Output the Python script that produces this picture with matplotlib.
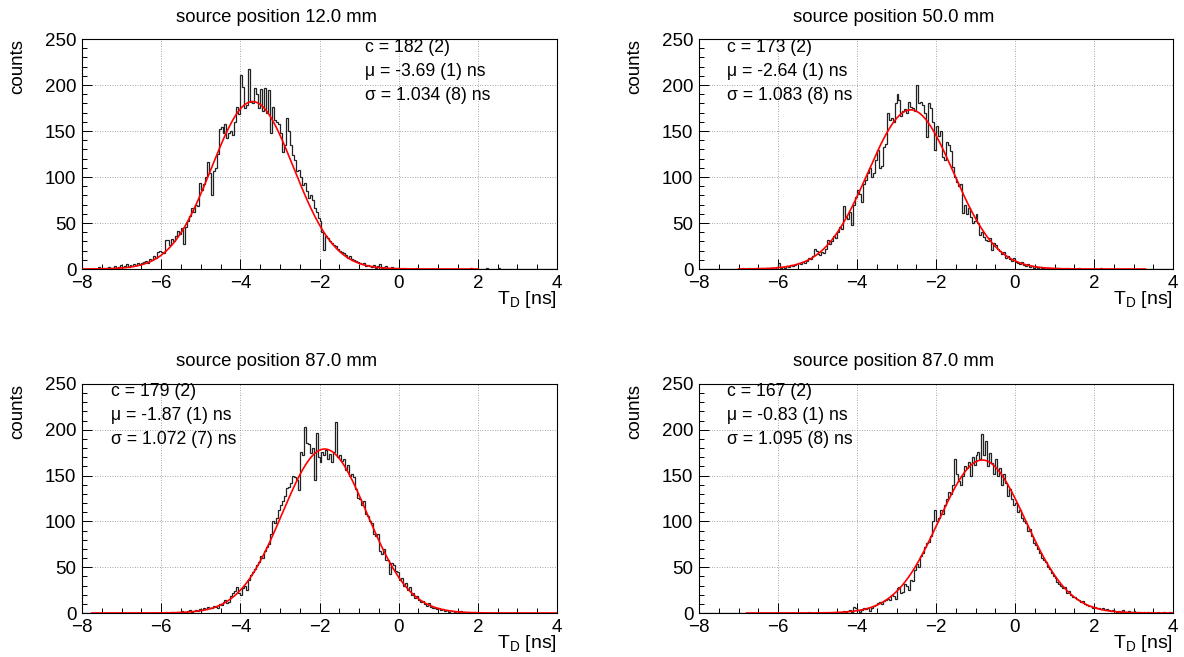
import numpy as np
import matplotlib
matplotlib.use("Agg")
import matplotlib.pyplot as plt
from matplotlib.ticker import MultipleLocator

plt.rcParams['font.family'] = ['Liberation Sans', 'DejaVu Sans']
plt.rcParams['mathtext.fontset'] = 'custom'
plt.rcParams['mathtext.rm'] = 'Liberation Sans'
plt.rcParams['mathtext.it'] = 'Liberation Sans'

# ---------------- data ----------------
titles = ["source position 12.0 mm", "source position 50.0 mm",
          "source position 87.0 mm", "source position 87.0 mm"]
c_vals = [182, 173, 179, 167]
c_errs = [2, 2, 2, 2]
mu_vals = [-3.69, -2.64, -1.87, -0.83]
mu_errs = [1, 1, 1, 1]
sigma_vals = [1.034, 1.083, 1.072, 1.095]
sigma_errs = [8, 8, 7, 8]
fit_ranges = [(-8.0, 2.0), (-7.0, 3.3), (-7.75, 4.0), (-6.8, 4.0)]

bin_width = 0.05
x_min, x_max = -8.0, 4.0

# histogram counts (bin width 0.05 ns), first bin starts at start_edges[i]
start_edges = [-7.6, -7.0, -6.0, -6.8]

counts_1 = [2, 0, 1, 0, 1, 2, 0, 1, 3, 1, 2, 4, 2, 3, 5, 2, 4, 3, 5, 4,
            7, 5, 6, 8, 9, 7, 11, 10, 14, 12, 18, 20, 19, 17, 31, 32, 26, 33, 30, 36,
            41, 38, 45, 27, 46, 52, 58, 66, 62, 70, 68, 94, 86, 92, 100, 116, 104, 80, 107, 110,
            125, 152, 154, 148, 158, 142, 148, 150, 146, 160, 176, 168, 211, 198, 175, 178, 217, 182, 180, 197,
            190, 175, 196, 172, 197, 170, 195, 148, 176, 162, 160, 158, 148, 127, 135, 164, 150, 135, 124, 118,
            106, 108, 100, 91, 93, 85, 77, 80, 75, 66, 62, 55, 52, 40, 21, 36, 34, 30, 28, 26,
            25, 22, 20, 19, 17, 15, 12, 14, 11, 10, 9, 8, 7, 5, 6, 3, 4, 3, 2, 4,
            1, 3, 5, 1, 2, 3, 1, 0, 2, 1, 0, 1, 0, 0, 1, 0, 0, 0, 0, 0,
            0, 1, 0, 0, 0, 0, 0, 0, 0, 0, 0, 0, 0, 0, 0, 0, 0, 0, 0, 0,
            0, 0, 0, 0, 0, 0, 0, 0, 1, 0, 0, 0, 0, 0, 0, 0, 1, 0, 0, 0,
            0, 0, 1, 0, 0, 0, 0, 0, 0, 0, 0, 0, 0, 0, 0, 0]

counts_2 = [0, 0, 1, 0, 0, 1, 0, 0, 0, 1, 0, 1, 0, 0, 1, 0, 1, 1, 0, 2,
            6, 1, 2, 1, 3, 2, 4, 3, 4, 5, 6, 5, 8, 7, 9, 12, 11, 14, 22, 20,
            16, 15, 18, 17, 22, 31, 27, 30, 36, 34, 40, 46, 44, 68, 56, 54, 62, 48, 70, 78,
            86, 82, 73, 92, 97, 104, 110, 100, 104, 118, 129, 110, 112, 133, 136, 170, 162, 164, 160, 180,
            190, 184, 166, 172, 174, 170, 182, 176, 175, 172, 200, 180, 182, 178, 170, 144, 180, 175, 160, 129,
            155, 145, 150, 122, 118, 138, 135, 128, 111, 100, 95, 90, 92, 61, 70, 60, 66, 57, 50, 52,
            60, 50, 37, 40, 35, 32, 30, 34, 21, 28, 26, 22, 20, 16, 18, 12, 14, 11, 9, 12,
            8, 7, 5, 8, 4, 3, 5, 2, 3, 1, 2, 1, 0, 1, 1, 0, 1, 0, 0, 0,
            0, 1, 0, 0, 0, 0, 1, 0, 0, 0, 0, 0, 1, 0, 0, 0, 0, 0, 0, 0,
            0, 0, 0, 1, 0, 0, 0, 0, 0, 0]

counts_3 = [0, 0, 1, 0, 0, 1, 0, 0, 1, 0, 2, 1, 1, 2, 3, 1, 2, 3, 2, 4,
            3, 5, 4, 7, 5, 6, 8, 7, 6, 10, 9, 12, 14, 11, 12, 19, 22, 24, 28, 22,
            20, 27, 30, 25, 36, 42, 45, 48, 52, 56, 62, 60, 68, 72, 75, 86, 100, 98, 104, 112,
            118, 122, 128, 136, 138, 142, 150, 148, 145, 134, 176, 172, 203, 186, 184, 175, 180, 145, 196, 170,
            165, 176, 172, 178, 168, 174, 165, 176, 208, 170, 172, 166, 168, 156, 162, 150, 152, 148, 135, 126,
            125, 118, 122, 108, 106, 100, 98, 86, 84, 86, 68, 64, 70, 58, 58, 43, 55, 52, 46, 45,
            36, 38, 30, 33, 25, 28, 20, 22, 16, 19, 14, 12, 13, 10, 8, 11, 7, 6, 6, 4,
            5, 3, 4, 2, 3, 1, 2, 2, 1, 0, 1, 2, 0, 1, 0, 1, 0, 0, 1, 0]

counts_4 = [0, 0, 0, 0, 0, 0, 0, 0, 0, 0, 0, 0, 0, 0, 0, 0, 0, 0, 0, 0,
            0, 0, 0, 0, 0, 0, 0, 0, 0, 0, 0, 1, 0, 0, 0, 0, 1, 0, 0, 0,
            0, 0, 0, 0, 0, 0, 1, 0, 1, 2, 1, 2, 3, 1, 7, 6, 3, 1, 3, 5,
            4, 5, 2, 6, 8, 9, 11, 12, 10, 13, 14, 15, 14, 20, 19, 15, 27, 28, 22, 23,
            32, 30, 25, 36, 35, 47, 54, 50, 62, 66, 72, 76, 78, 84, 100, 112, 100, 104, 112, 108,
            118, 124, 132, 130, 140, 168, 152, 144, 140, 150, 160, 158, 165, 150, 170, 162, 172, 176, 168, 195,
            172, 188, 160, 175, 164, 152, 168, 150, 158, 140, 152, 142, 128, 135, 124, 118, 120, 110, 112, 104,
            100, 98, 90, 92, 84, 76, 74, 70, 66, 60, 58, 56, 50, 48, 44, 40, 38, 34, 32, 30,
            27, 28, 22, 24, 20, 17, 18, 15, 14, 12, 13, 10, 9, 8, 8, 6, 7, 5, 6, 4,
            5, 3, 4, 3, 2, 3, 2, 1, 2, 1, 3, 1, 1, 2, 0, 1, 2, 0, 1, 1,
            0, 1, 0, 1, 0, 1, 0, 0, 1, 0, 0, 1, 0, 0, 1, 0]

all_counts = [counts_1, counts_2, counts_3, counts_4]

# ---------------- layout ----------------
W, H = 1184, 657
fig = plt.figure(figsize=(W / 100, H / 100), dpi=100)

def fx(px):
    return px / W

def fy(py):
    return 1 - py / H

# axes boxes in pixels: (left, top, right, bottom)
boxes = [(82, 39, 557, 269), (699, 39, 1173, 269),
         (82, 384, 557, 613), (699, 384, 1173, 613)]
title_pos = [(176, 18), (793, 18), (176, 362), (793, 362)]
stats_pos = [(365, 48), (727, 48), (111, 392), (727, 392)]
line_gap = 23.5

edges_full = np.round(np.arange(x_min, x_max + bin_width / 2, bin_width), 4)

for p in range(4):
    l, t, r, b = boxes[p]
    ax = fig.add_axes([fx(l), fy(b), fx(r) - fx(l), fy(t) - fy(b)])

    # histogram
    vals = np.zeros(len(edges_full) - 1)
    i0 = int(round((start_edges[p] - x_min) / bin_width))
    cnt = np.array(all_counts[p], dtype=float)
    n = min(len(cnt), len(vals) - i0)
    vals[i0:i0 + n] = cnt[:n]
    ax.stairs(vals, edges_full, color='#222222', lw=0.9, zorder=3)

    # gaussian fit
    xf = np.linspace(fit_ranges[p][0], fit_ranges[p][1], 600)
    yf = c_vals[p] * np.exp(-0.5 * ((xf - mu_vals[p]) / sigma_vals[p]) ** 2)
    ax.plot(xf, yf, color='#ff0000', lw=1.2, zorder=4)

    ax.set_xlim(x_min, x_max)
    ax.set_ylim(0, 250)
    ax.xaxis.set_major_locator(MultipleLocator(2))
    ax.xaxis.set_minor_locator(MultipleLocator(0.5))
    ax.yaxis.set_major_locator(MultipleLocator(50))
    ax.yaxis.set_minor_locator(MultipleLocator(10))
    ax.tick_params(which='both', direction='in', top=False, right=False,
                   labelsize=13.5, width=0.7, color='black')
    ax.tick_params(which='major', length=7, pad=4)
    ax.tick_params(which='minor', length=3.5)
    ax.xaxis.set_major_formatter(plt.FuncFormatter(
        lambda v, pos: ('\u2212' + str(int(abs(v)))) if v < 0 else str(int(v))))
    ax.grid(True, which='major', linestyle=(0, (1, 2)), color='#888888', lw=0.6)
    ax.set_axisbelow(True)
    for s in ax.spines.values():
        s.set_linewidth(0.8)

    # axis labels
    fig.text(fx(r), fy(b + 31), r"T$_{\mathrm{D}}$ [ns]", ha='right', va='center',
             fontsize=14)
    fig.text(fx(l - 64), fy(t), "counts", rotation=90, ha='center', va='top',
             fontsize=13.5)

    # title
    fig.text(fx(title_pos[p][0]), fy(title_pos[p][1]), titles[p],
             ha='left', va='center', fontsize=13.3)

    # fit parameters
    sx, sy = stats_pos[p]
    lines = [f"c = {c_vals[p]} ({c_errs[p]})",
             f"\u03bc = {mu_vals[p]:.2f} ({mu_errs[p]}) ns",
             f"\u03c3 = {sigma_vals[p]:.3f} ({sigma_errs[p]}) ns"]
    for j, txt in enumerate(lines):
        fig.text(fx(sx), fy(sy + j * line_gap), txt, ha='left', va='center',
                 fontsize=12.7)

fig.savefig("out.png", dpi=100)
